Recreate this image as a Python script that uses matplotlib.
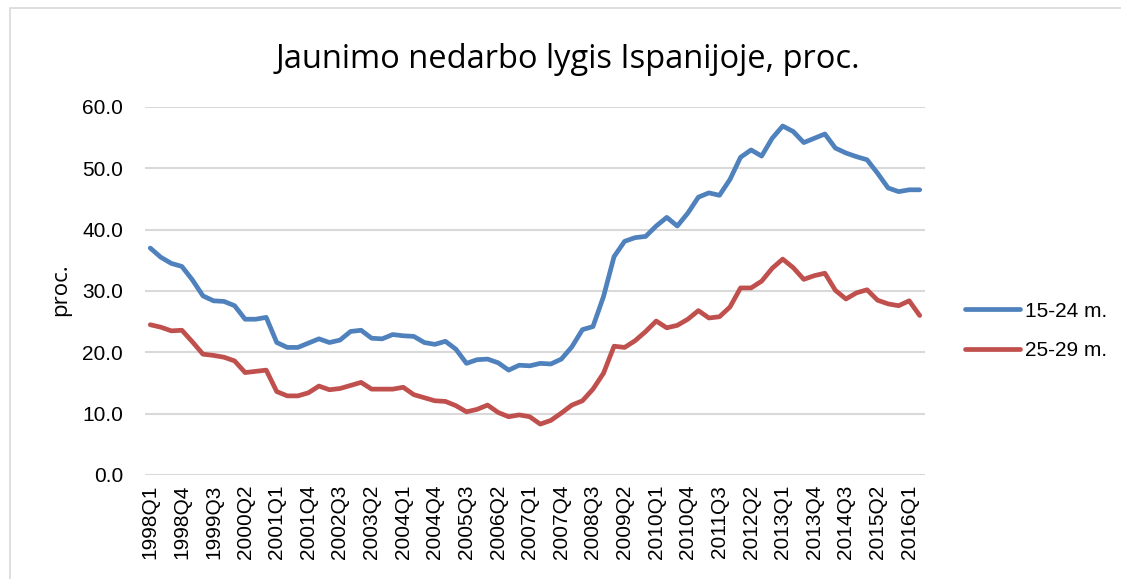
import matplotlib
matplotlib.use("Agg")
import matplotlib.pyplot as plt
from matplotlib.patches import Rectangle

years = list(range(1998, 2017))
quarters = [f"{y}Q{q}" for y in years for q in range(1, 5)][:74]

youth_15_24 = [37.0, 35.5, 34.5, 34.0, 31.8, 29.2, 28.4, 28.3, 27.6, 25.4,
               25.4, 25.7, 21.6, 20.8, 20.8, 21.5, 22.2, 21.6, 22.0, 23.4,
               23.6, 22.3, 22.2, 22.9, 22.7, 22.6, 21.6, 21.3, 21.8, 20.5,
               18.2, 18.8, 18.9, 18.3, 17.1, 17.9, 17.8, 18.2, 18.1, 18.9,
               20.9, 23.7, 24.2, 29.1, 35.6, 38.1, 38.7, 38.9, 40.6, 42.0,
               40.6, 42.7, 45.3, 46.0, 45.6, 48.2, 51.8, 53.0, 52.0, 54.9,
               56.9, 56.0, 54.2, 54.9, 55.6, 53.3, 52.5, 51.9, 51.4, 49.2,
               46.8, 46.2, 46.5, 46.5]
youth_25_29 = [24.5, 24.1, 23.5, 23.6, 21.7, 19.7, 19.5, 19.2, 18.6, 16.7,
               16.9, 17.1, 13.6, 12.9, 12.9, 13.4, 14.5, 13.9, 14.1, 14.6,
               15.1, 14.0, 14.0, 14.0, 14.3, 13.1, 12.6, 12.1, 12.0, 11.3,
               10.3, 10.7, 11.4, 10.2, 9.5, 9.8, 9.5, 8.3, 8.9, 10.1,
               11.4, 12.1, 14.0, 16.6, 21.0, 20.8, 21.9, 23.4, 25.1, 24.0,
               24.4, 25.4, 26.8, 25.6, 25.8, 27.4, 30.5, 30.5, 31.6, 33.7,
               35.2, 33.8, 31.9, 32.5, 32.9, 30.1, 28.7, 29.7, 30.2, 28.5,
               27.9, 27.6, 28.4, 26.0]
series_labels = ["15-24 m.", "25-29 m."]
title = "Jaunimo nedarbo lygis Ispanijoje, proc."
y_ticks = [0, 10, 20, 30, 40, 50, 60]

W, H = 1121, 579
fig = plt.figure(figsize=(W / 100, H / 100), dpi=100)
fig.patches.append(Rectangle((10 / W, -0.5), 2, 1.5 - 8 / H,
                             transform=fig.transFigure, fill=False,
                             edgecolor="#D9D9D9", linewidth=1.2))
ax = fig.add_axes([145 / W, 1 - 475 / H, 780 / W, 368 / H])

x = list(range(len(quarters)))
ax.plot(x, youth_15_24, color="#4F81BD", lw=3.4, solid_capstyle="round",
        solid_joinstyle="round", label=series_labels[0])
ax.plot(x, youth_25_29, color="#C0504D", lw=3.4, solid_capstyle="round",
        solid_joinstyle="round", label=series_labels[1])

ax.set_xlim(-0.5, len(quarters) - 0.5)
ax.set_ylim(0, 60)
ax.set_yticks(y_ticks)
ax.set_yticklabels([f"{v:.1f}" for v in y_ticks], fontsize=15,
                   family="Liberation Sans")
tick_pos = x[::3]
ax.set_xticks(tick_pos)
ax.set_xticklabels([quarters[i] for i in tick_pos], rotation=90, fontsize=15,
                   family="Liberation Sans")
ax.tick_params(length=0)
ax.tick_params(axis="x", pad=7)
ax.tick_params(axis="y", pad=15.8)
ax.grid(axis="y", color="#D9D9D9", lw=1.5)
ax.set_axisbelow(True)
for s in ax.spines.values():
    s.set_visible(False)
fig.text(61 / W, 1 - 290 / H, "proc.", rotation=90, ha="center", va="center",
         fontsize=16, family="Open Sans")

fig.text(568 / W, 1 - 60 / H, title, ha="center", va="center",
         fontsize=23.5, family="Open Sans")

leg = fig.legend(loc="center left", bbox_to_anchor=(965 / W, 1 - 331 / H),
                 frameon=False, borderpad=0, borderaxespad=0,
                 handlelength=2.65, handletextpad=0.25,
                 labelspacing=1.0, prop={"family": "Liberation Sans", "size": 15})

fig.savefig("out.png", dpi=100)
